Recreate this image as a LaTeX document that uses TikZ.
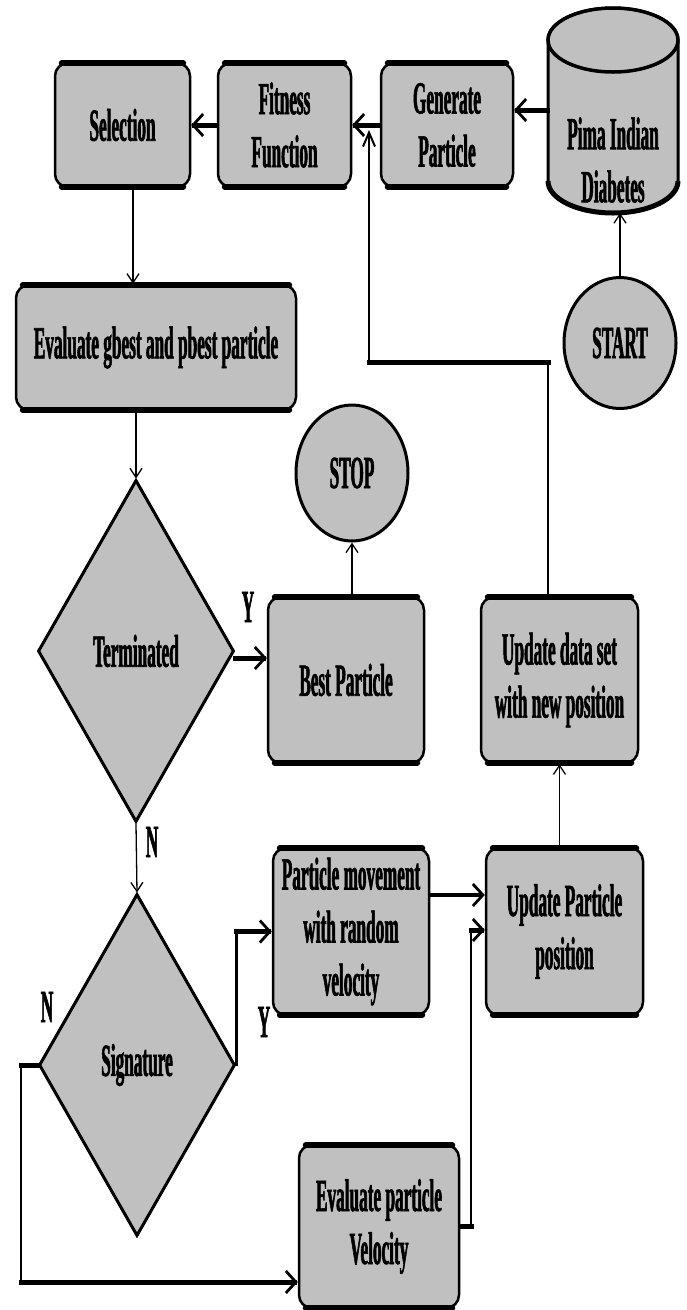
\documentclass[tikz,border=0pt]{standalone}
\usepackage{fontspec}
\setmainfont{Liberation Serif}[FakeStretch=0.375, BoldFeatures={FakeBold=1.2}]
\usetikzlibrary{arrows.meta,shapes.geometric}
\definecolor{boxgray}{RGB}{192,192,192}
\begin{document}
\begin{tikzpicture}[x=1pt,y=-1pt,
  txt/.style={font=\fontsize{46}{53}\selectfont\bfseries, align=center},
  box/.style={txt, draw, fill=boxgray, line width=2.5pt, rounded corners=13pt, inner sep=2pt},
  dia/.style={txt, draw, fill=boxgray, line width=3pt, diamond, aspect=0.573, inner sep=0pt, minimum width=196pt, minimum height=342pt},
  circ/.style={txt, draw, fill=boxgray, line width=3pt, ellipse, inner sep=0pt},
  band/.style={line width=6pt, line cap=round},
  lnthin/.style={line width=1.3pt},
  lnmid/.style={line width=2.5pt, line cap=rect},
  lnthick/.style={line width=5pt, line cap=rect},
  tipthin/.style={-{Straight Barb[length=9pt,width=12pt,line width=1.3pt]}},
  tipmid/.style={-{Straight Barb[length=14pt,width=12pt,line width=2pt]}},
  tipthick/.style={-{Straight Barb[length=10pt,width=22pt,line width=2.8pt]}},
  lab/.style={txt}
]
\useasboundingbox (0,0) rectangle (686,1310);

% cylinder
\filldraw[fill=boxgray, line width=3pt] (548,40) -- (548,181)
  arc[start angle=180, end angle=0, x radius=65, y radius=32] -- (678,40)
  arc[start angle=0, end angle=-180, x radius=65, y radius=32] -- cycle;
\draw[line width=3.5pt] (613,40) ellipse[x radius=65, y radius=32];
\draw[line width=5pt] (548,181) arc[start angle=180, end angle=0, x radius=65, y radius=32];
\node[txt, minimum width=130pt, inner sep=0pt] (pima) at (613,160) {Pima Indian\\Diabetes};
\coordinate (pimabot) at (621,213);

\node[box, minimum width=135pt, minimum height=124pt] (sel) at (122.5,125) {Selection};
\node[box, minimum width=133pt, minimum height=124pt] (fit) at (284.5,125) {Fitness\\Function};
\node[box, minimum width=132pt, minimum height=124pt] (gen) at (447,125) {Generate\\Particle};
\node[circ, minimum width=112pt, minimum height=131pt] (start) at (620,343) {START};
\node[box, minimum width=280pt, minimum height=125pt] (evalg) at (156,347.5) {Evaluate gbest and pbest particle};
\node[circ, minimum width=112pt, minimum height=136pt] (stop) at (352,473) {STOP};
\node[dia] (term) at (136,651) {Terminated};
\node[box, minimum width=156pt, minimum height=166pt] (best) at (346,680) {Best Particle};
\node[box, minimum width=157pt, minimum height=166pt] (upd) at (559.5,680) {Update data set\\with new position};
\node[dia] (sig) at (137,1065) {Signature};
\node[box, minimum width=156pt, minimum height=167pt] (pm) at (351,931.5) {Particle movement\\with random\\velocity};
\node[box, minimum width=157pt, minimum height=167pt] (upp) at (564.5,931.5) {Update Particle\\position};
\node[box, minimum width=160pt, minimum height=163pt] (ev) at (379,1226.5) {Evaluate particle\\Velocity};

\foreach \n in {sel,fit,gen,evalg,best,upd,pm,upp,ev}{
  \draw[band] ([xshift=8pt,yshift=-1.5pt]\n.north west) -- ([xshift=-8pt,yshift=-1.5pt]\n.north east);
  \draw[band] ([xshift=8pt,yshift=1.5pt]\n.south west) -- ([xshift=-8pt,yshift=1.5pt]\n.south east);
}

% labels
\node[lab] (ly1) at (248,607) {Y};
\node[lab] (ln1) at (152,842) {N};
\node[lab] (ln2) at (47,1007) {N};
\node[lab] (ly2) at (264,1022) {Y};

% connectors
\draw[lnthin, tipthin] (start.north) -- (start.north |- pimabot);
\draw[lnthick, tipthick] ([yshift=50pt]pima.west) -- ([yshift=50pt]pima.west -| gen.east);
\draw[lnthick, tipthick] (gen.west) -- (fit.east);
\draw[lnthick, tipthick] (fit.west) -- (sel.east);

\coordinate (fa) at (548,362);
\coordinate (fb) at (369,362);
\coordinate (fc) at (369,130);
\draw[lnmid] (fa |- upd.north) -- (fa);
\draw[lnthick] (fa) -- (fb);
\draw[lnmid, line cap=butt, tipmid] (fb) -- (fc);

\draw[lnthin, tipthin] ([xshift=10.5pt]sel.south) -- ([xshift=10.5pt]sel.south |- evalg.north);
\draw[lnthin, tipthin] (evalg.south -| term.north) -- (term.north);
\draw[lnthick, tipthick] ([yshift=-7pt]term.east) -- ([yshift=-7pt]term.east -| best.west);
\draw[lnthin, tipthin] (stop.south |- best.north) -- (stop.south);
\draw[lnthin, tipthin] (term.south) -- (sig.north);

\draw[lnmid] (sig.east) -- (sig.east |- pm.west);
\draw[lnthick, tipthick] (sig.east |- pm.west) -- (pm.west);
\draw[line width=4pt, tipthick] ([yshift=36.5pt]pm.east) -- ([yshift=36.5pt]pm.east -| upp.west);

\coordinate (vx) at (471,930);
\draw[lnthick] (ev.east) -- (ev.east -| vx);
\draw[lnmid] (ev.east -| vx) -- (vx);
\draw[lnthick, tipthick] (vx) -- (vx -| upp.west);
\draw[lnthin, tipthin] (upd.south |- upp.north) -- (upd.south);

\coordinate (nl) at (21,1282);
\draw[lnthick] (sig.west) -- (sig.west -| nl);
\draw[lnmid] (sig.west -| nl) -- (nl);
\draw[lnthick, tipthick] (nl) -- (nl -| ev.west);
\end{tikzpicture}
\end{document}
